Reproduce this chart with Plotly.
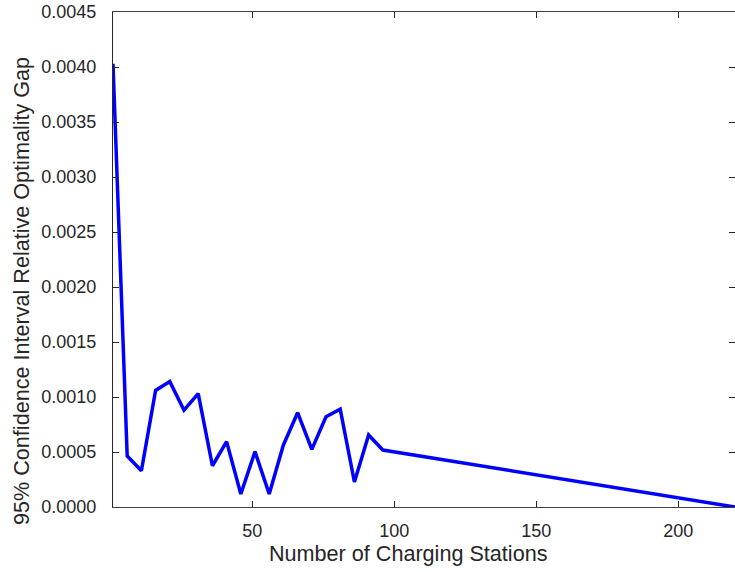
import plotly.graph_objects as go

stations = [1, 6, 11, 16, 21, 26, 31, 36, 41, 46, 51, 56, 61, 66, 71, 76, 81, 86, 91, 96, 220]
gap = [0.00403, 0.000464, 0.00033, 0.00106, 0.00114, 0.00088, 0.00103, 0.000375, 0.000594,
       0.000118, 0.000503, 0.000118, 0.000564, 0.000857, 0.000524, 0.00082, 0.00089,
       0.000227, 0.000655, 0.000518, 0.0]

x_ticks = [50, 100, 150, 200]
y_ticks = [0.0, 0.0005, 0.0010, 0.0015, 0.0020, 0.0025, 0.0030, 0.0035, 0.0040, 0.0045]
x_title = "Number of Charging Stations"
y_title = "95% Confidence Interval Relative Optimality Gap"

fig = go.Figure()
fig.add_trace(go.Scatter(x=stations, y=gap, mode="lines",
                         line=dict(color="#0000ff", width=3.5), showlegend=False))

font = dict(family="Liberation Sans, Arial, sans-serif", size=18, color="#262626")
title_font = dict(family="Liberation Sans, Arial, sans-serif", size=21.6, color="#262626")
fig.update_layout(
    width=735, height=572,
    margin=dict(l=113, r=0, t=12, b=65),
    paper_bgcolor="white", plot_bgcolor="white",
    font=font,
)
fig.update_xaxes(range=[1, 220], tickvals=x_ticks, ticks="inside", ticklen=6,
                 tickcolor="#262626", showline=True, linecolor="#404040", linewidth=1,
                 mirror="ticks", showgrid=False, zeroline=False,
                 ticklabelstandoff=7)
fig.update_yaxes(range=[0, 0.0045], tickvals=y_ticks, tickformat=".4f", ticks="inside",
                 ticklen=6, tickcolor="#262626", showline=True, linecolor="#262626",
                 linewidth=1, mirror="ticks", showgrid=False, zeroline=False,
                 ticklabelstandoff=12)

fig.add_annotation(text=x_title, xref="paper", yref="paper", x=0.4743, y=-0.093,
                   xanchor="center", yanchor="middle", showarrow=False, font=title_font)
fig.add_annotation(text=y_title, xref="paper", yref="paper", x=-0.1471, y=0.4354,
                   xanchor="center", yanchor="middle", textangle=-90, showarrow=False,
                   font=title_font)

fig.write_html("out.html")
